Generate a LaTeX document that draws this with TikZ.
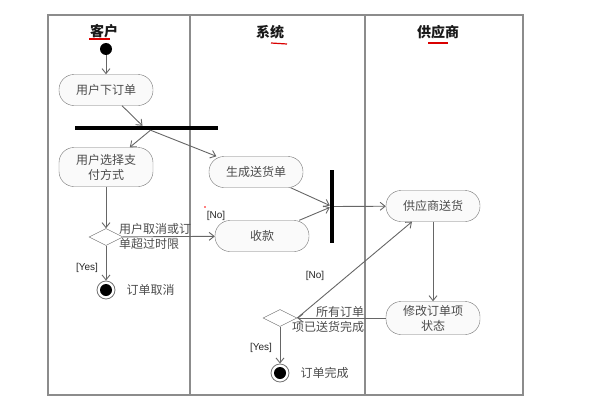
\documentclass[tikz,border=0pt]{standalone}
\usepackage{fontspec}
\setmainfont{Noto Sans CJK SC}
\setsansfont{Liberation Sans}
\usetikzlibrary{shapes.geometric,arrows.meta,positioning}

\begin{document}
\begin{tikzpicture}[x=1pt, y=1pt, >={Straight Barb[length=5pt,width=8pt]},
    font=\fontsize{12}{15}\selectfont,
    act/.style={draw=black!55, fill=black!2, rectangle, rounded corners=15pt,
      minimum width=94pt, minimum height=31pt, align=center, text=black!70, inner sep=1pt},
    choice/.style={draw=black!55, fill=white, diamond, aspect=2, minimum width=34pt,
      minimum height=17pt, inner sep=0pt},
    bar/.style={fill=black, inner sep=0pt},
    guard/.style={font=\sffamily\fontsize{10}{12}\selectfont, text=black!85, inner sep=1pt},
    note/.style={text=black!70, inner sep=1pt},
    lane/.style={font=\bfseries\fontsize{14}{16}\selectfont, text=black!90},
    flow/.style={->, draw=black!60, line width=0.9pt}]
    \useasboundingbox (0,0) rectangle (593,-412);

    % Carriles
    \draw[black!45, line width=1.2pt] (48,-15) rectangle (523,-395);
    \draw[black!45, line width=1.2pt] (190,-15) -- (190,-395);
    \draw[black!45, line width=1.2pt] (365,-15) -- (365,-395);
    \node (laneA) [lane] at (104,-31) {客户};
    \node (laneB) [lane] at (270,-32) {系统};
    \node (laneC) [lane] at (438,-32) {供应商};
    \draw[red!85!black, line width=1.2pt] (89,-39) -- (110,-39);
    \draw[red!85!black, line width=1.2pt] (271,-43) -- (287,-44);
    \draw[red!85!black, line width=1.2pt] (428,-43) -- (448,-43);
    \fill[red] (205,-207) circle (0.9pt);

    % Nodos principales
    \node (start) [circle, fill=black, minimum size=12pt, inner sep=0pt] at (106,-49) {};
    \node (order) [act, below of=start, node distance=41pt] {用户下订单};
    \node (fork) [bar, minimum width=143pt, minimum height=4pt] at (146.5,-128) {};
    \node (pay) [act, minimum height=39pt, below of=order, node distance=77pt] {用户选择支\\付方式};
    \node (dec1) [choice, below of=pay, node distance=70pt] {};
    \node (end1) [circle, draw=black!55, line width=0.8pt, fill=white, minimum size=18pt,
      inner sep=0pt, below of=dec1, node distance=53pt] {};
    \fill[black] (end1) circle (6pt);

    \node (invoice) [act] at (256,-172) {生成送货单};
    \node (collect) [act] at (262,-236) {收款};
    \node (join) [bar, minimum width=4pt, minimum height=73pt] at (332,-206.5) {};

    \node (ship) [act] at (433,-206) {供应商送货};
    \node (update) [act, minimum height=33pt, below of=ship, node distance=112pt] {修改订单项\\状态};
    \node (dec2) [choice, left of=update, node distance=153pt] {};
    \node (end2) [circle, draw=black!55, line width=0.8pt, fill=white, minimum size=18pt,
      inner sep=0pt, below of=dec2, node distance=55pt] {};
    \fill[black] (end2) circle (6pt);

    % Textos
    \node (cond1) [note, align=left] at (155,-236) {用户取消或订\\单超过时限};
    \node (cond2) [note, align=right] at (328,-319) {所有订单\\项已送货完成};
    \node (lbl1) [note, right=10pt of end1] {订单取消};
    \node (lbl2) [note, right=10pt of end2] {订单完成};
    \node (no1) [guard] at (216,-216) {[No]};
    \node (yes1) [guard] at (87,-268) {[Yes]};
    \node (no2) [guard] at (315,-276) {[No]};
    \node (yes2) [guard] at (261,-348) {[Yes]};

    % Flechas de conexión
    \draw[flow] (start) -- (order);
    \draw[flow] (order) -- ([xshift=-4pt]fork.north);
    \draw[flow] ([xshift=4pt]fork.south) -- (pay);
    \draw[flow] ([xshift=4pt]fork.south) -- (invoice);
    \draw[flow] (pay) -- (dec1);
    \draw[flow] (dec1) -- (collect);
    \draw[flow] (dec1) -- (end1);
    \draw[flow] (invoice) -- (join);
    \draw[flow] (collect) -- (join);
    \draw[flow] (join) -- (ship);
    \draw[flow] (ship) -- (update);
    \draw[flow] (update) -- (dec2);
    \draw[flow] (dec2.east) -- ([xshift=-21pt]ship.south);
    \draw[flow] (dec2) -- (end2);
\end{tikzpicture}
\end{document}
